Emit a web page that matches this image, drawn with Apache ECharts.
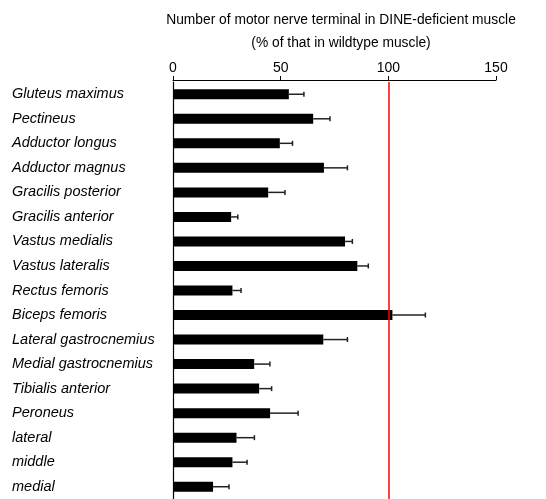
<!DOCTYPE html>
<html><head><meta charset="utf-8">
<script src="https://cdn.jsdelivr.net/npm/echarts@6/dist/echarts.min.js"></script>
<style>html,body{margin:0;padding:0;background:#fff}#c{width:546px;height:499px}</style>
</head><body><div id="c"></div>
<script>
const categories = ["Gluteus maximus","Pectineus","Adductor longus","Adductor magnus","Gracilis posterior","Gracilis anterior","Vastus medialis","Vastus lateralis","Rectus femoris","Biceps femoris","Lateral gastrocnemius","Medial gastrocnemius","Tibialis anterior","Peroneus","lateral","middle","medial"];
const means = [53.8,65.1,49.6,70.1,44.2,27.0,79.9,85.6,27.6,101.9,69.8,37.7,40.0,45.1,29.5,27.6,18.6];
const errors = [7.0,7.8,5.9,10.9,7.8,3.1,3.4,5.1,4.0,15.3,11.2,7.3,5.8,13.0,8.3,6.8,7.4];
const xTicks = [0,50,100,150];
const refValue = 100;

const chart = echarts.init(document.getElementById('c'));
const font = 'Liberation Sans, Arial, sans-serif';
chart.setOption({
  animation:false,
  title:{text:'Number of motor nerve terminal in DINE-deficient muscle\n(% of that in wildtype muscle)',
    left:336, textAlign:'center', top:4,
    textStyle:{fontFamily:font,fontSize:13.8,fontWeight:'normal',color:'#000',lineHeight:23}},
  grid:{left:173,width:323,top:82,height:421,containLabel:false},
  xAxis:{type:'value',position:'top',min:0,max:150,interval:50,offset:2,
    axisLine:{show:true,lineStyle:{color:'#000',width:1}},
    axisTick:{show:true,length:4,lineStyle:{color:'#000'}},
    splitLine:{show:false},
    axisLabel:{fontFamily:font,fontSize:14,color:'#000',margin:5,
      formatter:function(v){return xTicks.indexOf(v)>=0?String(v):'';}}},
  yAxis:{type:'category',data:categories,inverse:true,
    axisLine:{show:true,lineStyle:{color:'#000',width:1.2}},
    axisTick:{show:false},
    axisLabel:{fontFamily:font,fontSize:14.5,fontStyle:'italic',color:'#000',align:'left',margin:161}},
  series:[
    {type:'bar',data:means,barWidth:10,itemStyle:{color:'#000'},z:2,
      markLine:{silent:true,symbol:'none',label:{show:false},
        lineStyle:{color:'#ff0000',width:1.5,type:'solid'},
        data:[{xAxis:refValue}]}},
    {type:'custom',z:3,
      data:means.map((m,i)=>[i,m,m+errors[i]]),
      renderItem:function(params,api){
        const y = api.coord([0,api.value(0)])[1];
        const x1 = api.coord([api.value(1),api.value(0)])[0];
        const x2 = api.coord([api.value(2),api.value(0)])[0];
        return {type:'group',children:[
          {type:'line',shape:{x1:x1,y1:y,x2:x2,y2:y},style:{stroke:'#222',lineWidth:1.5}},
          {type:'line',shape:{x1:x2,y1:y-2.5,x2:x2,y2:y+2.5},style:{stroke:'#222',lineWidth:1.5}}
        ]};
      },
      encode:{x:[1,2],y:0}}
  ]
});
</script></body></html>
